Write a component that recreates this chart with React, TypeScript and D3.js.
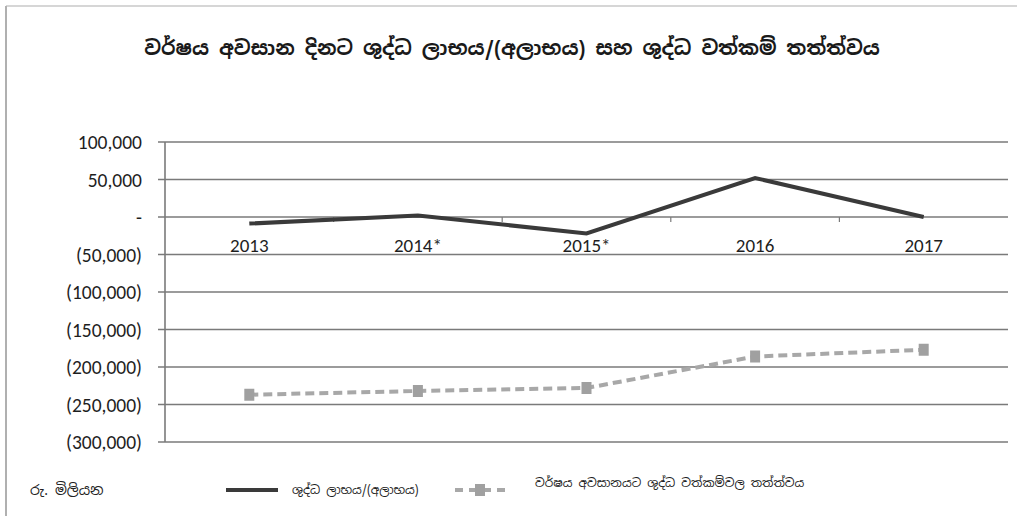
import React from "react";
import * as d3 from "d3";

const categories = ["2013", "2014*", "2015*", "2016", "2017"];
const netProfit = [-8800, 2000, -22000, 52000, 0];
const netAssets = [-237000, -232000, -228000, -186000, -177000];
const yTicks = [100000, 50000, 0, -50000, -100000, -150000, -200000, -250000, -300000];

const title = "වර්ෂය අවසාන දිනට ශුද්ධ ලාභය/(අලාභය) සහ ශුද්ධ වත්කම් තත්ත්වය";
const unitLabel = "රු. මිලියන";
const seriesNames = ["ශුද්ධ ලාභය/(අලාභය)", "වර්ෂය අවසානයට ශුද්ධ වත්කම්වල තත්ත්වය"];

const W = 1023, H = 516;
const left = 165, right = 1008, top = 142, bottom = 442;

function fmt(v: number) {
  if (v === 0) return "-";
  const s = d3.format(",")(Math.abs(v));
  return v < 0 ? `(${s})` : s;
}

export default function App() {
  const x = d3.scaleBand<string>().domain(categories).range([left, right]);
  const y = d3.scaleLinear().domain([-300000, 100000]).range([bottom, top]);
  const cx = (c: string) => (x(c) as number) + x.bandwidth() / 2;
  const line = d3.line<number>().x((_, i) => cx(categories[i])).y((d) => y(d));
  const font = "Calibri, Carlito, Lato, 'Open Sans', sans-serif";
  const sinFont = "'Noto Sans Sinhala', 'Iskoola Pota', 'Noto Sans', sans-serif";
  return (
    <svg width={W} height={H} style={{ position: "absolute", left: 0, top: 0, background: "#fff" }}>
      <line x1={6} y1={6} x2={1017} y2={6} stroke="#c8c8c8" strokeWidth={1.5} />
      <line x1={6} y1={6} x2={6} y2={516} stroke="#b0b0b0" strokeWidth={2} />
      <text x={512} y={55} textAnchor="middle" fontSize={20} fontWeight="bold" fill="#1a1a1a" fontFamily={sinFont}>
        {title}
      </text>
      {yTicks.map((t) => (
        <g key={t}>
          <line x1={left - 7} x2={right} y1={y(t)} y2={y(t)} stroke="#7a7a7a" strokeWidth={1.6} />
          <text x={142} y={y(t) + 7} textAnchor="end" fontSize={19.5} fill="#1e1e1e" fontFamily={font}>
            {fmt(t)}
          </text>
        </g>
      ))}
      <line x1={left} x2={left} y1={top} y2={bottom} stroke="#7a7a7a" strokeWidth={1.6} />
      {categories.slice(1).map((c) => (
        <line key={c} x1={x(c) as number} x2={x(c) as number} y1={y(0)} y2={y(0) + 5} stroke="#7a7a7a" strokeWidth={1.2} />
      ))}
      {categories.map((c) => (
        <text key={c} x={cx(c)} y={y(0) + 35} textAnchor="middle" fontSize={19} fill="#1e1e1e" fontFamily={font}>
          {c}
        </text>
      ))}
      <path d={line(netProfit) || ""} fill="none" stroke="#3a3a3a" strokeWidth={4} strokeLinejoin="miter" />
      <path d={line(netAssets) || ""} fill="none" stroke="#a8a8a8" strokeWidth={4} strokeDasharray="9,5" />
      {netAssets.map((v, i) => (
        <rect key={i} x={cx(categories[i]) - 5} y={y(v) - 6} width={10} height={12} fill="#a0a0a0" />
      ))}
      <text x={30} y={495} fontSize={14} fill="#222" fontFamily={sinFont}>{unitLabel}</text>
      <line x1={226} x2={278} y1={490} y2={490} stroke="#3a3a3a" strokeWidth={4} />
      <text x={292} y={494} fontSize={12} fill="#222" fontFamily={sinFont}>{seriesNames[0]}</text>
      <line x1={455} x2={505} y1={490} y2={490} stroke="#a8a8a8" strokeWidth={4} strokeDasharray="8,6" />
      <rect x={475} y={484} width={10} height={12} fill="#a0a0a0" />
      <text x={535} y={487} fontSize={12} fill="#222" fontFamily={sinFont}>{seriesNames[1]}</text>
    </svg>
  );
}
